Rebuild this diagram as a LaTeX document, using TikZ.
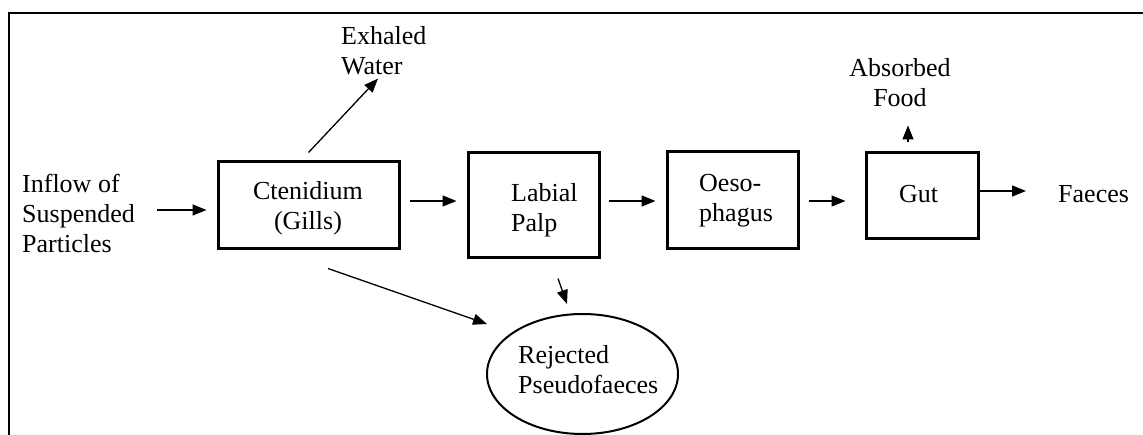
\documentclass[tikz,border=0pt]{standalone}
\usepackage{fontspec}
\setmainfont{Liberation Serif}
\usetikzlibrary{arrows.meta,calc,shapes.geometric}
\begin{document}
\begin{tikzpicture}[x=1pt,y=-1pt,
  txt/.style={inner sep=0pt,font=\fontsize{26}{30}\selectfont},
  stagebox/.style={draw,line width=3pt,inner sep=0pt},
  arr/.style={line width=1.3pt,-{Triangle[length=14pt,width=11pt]}}]
\useasboundingbox (0,0) rectangle (1143,435);
\draw[line width=2pt] (9,435) -- (9,13) -- (1143,13);
% boxes
\node[stagebox,minimum width=181pt,minimum height=87pt] (ctn) at (308.5,205.5) {};
\node[stagebox,minimum width=131pt,minimum height=105pt] (lab) at (533.5,205.5) {};
\node[stagebox,minimum width=131pt,minimum height=97pt] (oes) at (732.5,200.5) {};
\node[stagebox,minimum width=112pt,minimum height=86pt] (gut) at (922,196) {};
\node[draw,ellipse,line width=2pt,inner sep=0pt,minimum width=191pt,minimum height=120pt] (rej) at (582.5,374) {};
% texts (base anchor = baseline of last line)
\node[txt,anchor=base west,align=left] (inflow) at (22,253) {Inflow of\\Suspended\\Particles};
\node[txt,anchor=base west,align=left] (exh) at (341,75) {Exhaled\\Water};
\node[txt,anchor=base,align=center] (ctnt) at (308,230) {Ctenidium\\(Gills)};
\node[txt,anchor=base west,align=left] (labt) at (511,232) {Labial\\Palp};
\node[txt,anchor=base west,align=left] (oest) at (699,222) {Oeso-\\phagus};
\node[txt,anchor=base] (gutt) at (918.5,203) {Gut};
\node[txt,anchor=base west] (fae) at (1058,203) {Faeces};
\node[txt,anchor=base,align=center] (abs) at (900,107) {Absorbed\\Food};
\node[txt,anchor=base west,align=left] (rejt) at (518,393) {Rejected\\Pseudofaeces};
% connectors
\draw[arr] ($(inflow.east|-ctn.west)+(22,4.5)$) -- ($(ctn.west)+(-10,4.5)$);
\draw[arr] ($(ctn.east)+(9,-4.5)$) -- ($(lab.west)+(-10,-4.5)$);
\draw[arr] ($(lab.east)+(8,-4.5)$) -- ($(oes.west)+(-10,0.5)$);
\draw[arr] ($(oes.east)+(9,0.5)$) -- ($(gut.west)+(-19,5)$);
\draw[arr] ($(gut.east)+(0,-5)$) -- ($(fae.west|-gut.east)+(-32,-5)$);
\draw[arr] ($(gut.north)+(-14,-9)$) -- ($(abs.south-|gut.north)+(-14,18)$);
\draw[arr] ($(ctn.north)+(0,-8)$) -- ($(exh.south west)+(37,3)$);
\draw[arr] ($(ctn.south)+(19.5,18)$) -- ($(rej.center)+(-95.5,-50)$);
\draw[arr] ($(lab.south)+(24.5,19)$) -- ($(rej.north)+(-15.5,-9)$);
\end{tikzpicture}
\end{document}
